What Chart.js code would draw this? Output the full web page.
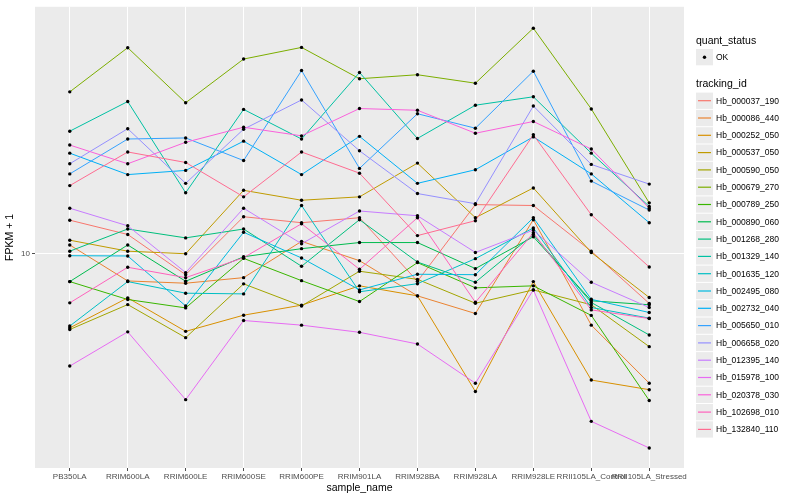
<!DOCTYPE html>
<html>
<head>
<meta charset="utf-8">
<script src="https://cdn.jsdelivr.net/npm/chart.js@4"></script>
<style>
  html, body { margin: 0; padding: 0; background: #fff; }
  #wrap { width: 800px; height: 500px; }
</style>
</head>
<body>
<div id="wrap"><canvas id="chart" width="800" height="500"></canvas></div>
<script>
// Expression plot (FPKM + 1, log scale) per sample

const samples = ['PB350LA', 'RRIM600LA', 'RRIM600LE', 'RRIM600SE', 'RRIM600PE', 'RRIM901LA',
    'RRIM928BA', 'RRIM928LA', 'RRIM928LE', 'RRII105LA_Control', 'RRII105LA_Stressed'];

const trackingIds = ['Hb_000037_190', 'Hb_000086_440', 'Hb_000252_050', 'Hb_000537_050', 'Hb_000590_050',
    'Hb_000679_270', 'Hb_000789_250', 'Hb_000890_060', 'Hb_001268_280', 'Hb_001329_140',
    'Hb_001635_120', 'Hb_002495_080', 'Hb_002732_040', 'Hb_005650_010', 'Hb_006658_020',
    'Hb_012395_140', 'Hb_015978_100', 'Hb_020378_030', 'Hb_102698_010', 'Hb_132840_110'];

const seriesColors = ['#F8766D', '#EA8331', '#D89000', '#C09B00', '#A3A500', '#7CAE00', '#39B600',
    '#00BB4E', '#00BF7D', '#00C1A3', '#00BFC4', '#00BAE0', '#00B0F6', '#35A2FF', '#9590FF',
    '#C77CFF', '#E76BF3', '#FA62DB', '#FF62BC', '#FF6C91'];

// FPKM + 1 values, one array per gene, in sample order
const hb000037 = [12.95, 11.6, 8.51, 13.3, 12.7, 13.2, 8.09, 14.6, 14.5, 10.2, 6.82];
const hb000086 = [10.7, 8.11, 7.97, 8.32, 11.0, 9.48, 7.23, 6.31, 13.0, 5.77, 3.69];
const hb000252 = [5.65, 7.12, 5.50, 6.23, 6.73, 7.81, 7.23, 3.46, 8.07, 3.78, 3.51];
const hb000537 = [11.1, 10.2, 10.0, 16.3, 15.1, 15.5, 20.1, 13.2, 16.6, 10.1, 7.14];
const hb000590 = [5.58, 6.76, 5.24, 7.93, 6.69, 8.74, 8.21, 6.83, 7.57, 6.75, 4.89];
const hb000679 = [34.8, 48.9, 32.0, 44.8, 49.0, 38.5, 39.7, 37.2, 56.8, 30.5, 14.8];
const hb000789 = [8.07, 7.03, 6.59, 9.65, 8.13, 6.92, 9.34, 7.69, 7.81, 6.22, 3.23];
const hb000890 = [8.07, 10.7, 8.09, 9.77, 10.4, 10.9, 10.9, 8.92, 11.4, 6.96, 6.75];
const hb001268 = [10.2, 12.1, 11.3, 12.1, 9.08, 13.0, 9.38, 8.03, 11.6, 6.87, 5.35];
const hb001329 = [25.7, 32.3, 16.0, 30.4, 24.2, 40.4, 24.3, 31.4, 33.5, 21.7, 14.4];
const hb001635 = [5.73, 8.07, 7.38, 7.34, 14.5, 7.46, 7.94, 9.63, 12.2, 6.61, 6.09];
const hb002495 = [9.85, 9.83, 6.69, 11.8, 9.68, 7.57, 8.54, 8.51, 13.2, 7.04, 6.36];
const hb002732 = [21.7, 18.4, 19.0, 23.8, 18.4, 24.7, 17.2, 19.1, 24.6, 18.5, 12.7];
const hb005650 = [18.5, 24.2, 24.4, 20.5, 41.0, 19.3, 29.4, 26.3, 40.8, 17.5, 14.0];
const hb006658 = [20.0, 26.2, 17.2, 26.1, 32.7, 22.1, 15.9, 14.7, 31.2, 19.9, 17.1];
const hb012395 = [14.2, 12.4, 8.65, 14.2, 10.8, 13.9, 13.4, 10.1, 12.0, 8.03, 6.61];
const hb015978 = [4.21, 5.48, 3.25, 5.98, 5.77, 5.46, 4.99, 3.69, 7.57, 2.75, 2.24];
const hb020378 = [23.1, 20.0, 23.6, 26.5, 24.8, 30.6, 30.2, 25.3, 27.7, 22.4, 14.2];
const hb102698 = [6.85, 9.01, 8.32, 9.70, 12.6, 8.87, 13.2, 6.88, 11.75, 6.49, 6.07];
const hb132840 = [16.9, 21.9, 20.2, 15.5, 21.9, 18.6, 11.5, 12.9, 25.0, 13.5, 9.03];

const seriesValues = [hb000037, hb000086, hb000252, hb000537, hb000590, hb000679, hb000789,
    hb000890, hb001268, hb001329, hb001635, hb002495, hb002732, hb005650, hb006658,
    hb012395, hb015978, hb020378, hb102698, hb132840];

const yTicks = [10];
const yMin = 1.92;
const yMax = 67;

const FONT = '"Liberation Sans", Arial, Helvetica, sans-serif';
const PANEL_BG = '#EBEBEB';

// grey panel behind the grid
const panelBackground = {
    id: 'panelBackground',
    beforeDraw(chart) {
        const { ctx, chartArea: a } = chart;
        ctx.save();
        ctx.fillStyle = PANEL_BG;
        ctx.fillRect(a.left, a.top, a.right - a.left, a.bottom - a.top);
        ctx.restore();
    }
};

// black points drawn over all lines, like geom_point after geom_line
const pointsOnTop = {
    id: 'pointsOnTop',
    afterDatasetsDraw(chart) {
        const ctx = chart.ctx;
        ctx.save();
        ctx.fillStyle = '#000';
        chart.data.datasets.forEach((ds, i) => {
            chart.getDatasetMeta(i).data.forEach(pt => {
                ctx.beginPath();
                ctx.arc(pt.x, pt.y, 1.7, 0, Math.PI * 2);
                ctx.fill();
            });
        });
        ctx.restore();
    }
};

// ggplot style legend on the right
const ggLegend = {
    id: 'ggLegend',
    afterDraw(chart) {
        const ctx = chart.ctx;
        const x0 = 696;
        ctx.save();
        ctx.textBaseline = 'middle';
        ctx.textAlign = 'left';

        ctx.fillStyle = '#000';
        ctx.font = '10.5px ' + FONT;
        ctx.fillText('quant_status', x0, 41);

        ctx.fillStyle = PANEL_BG;
        ctx.fillRect(x0, 49, 17, 16.3);
        ctx.fillStyle = '#000';
        ctx.beginPath();
        ctx.arc(x0 + 8.5, 57.2, 1.7, 0, Math.PI * 2);
        ctx.fill();
        ctx.font = '8.5px ' + FONT;
        ctx.fillText('OK', x0 + 20, 57.5);

        ctx.font = '10.5px ' + FONT;
        ctx.fillText('tracking_id', x0, 84);

        ctx.font = '8.5px ' + FONT;
        trackingIds.forEach((id, i) => {
            const cy = 100.7 + i * 17.3;
            ctx.fillStyle = PANEL_BG;
            ctx.fillRect(x0, cy - 8.1, 17, 16.3);
            ctx.strokeStyle = seriesColors[i];
            ctx.lineWidth = 1.2;
            ctx.beginPath();
            ctx.moveTo(x0 + 2, cy);
            ctx.lineTo(x0 + 15, cy);
            ctx.stroke();
            ctx.fillStyle = '#000';
            ctx.fillText(id, x0 + 20, cy + 0.5);
        });
        ctx.restore();
    }
};

function buildDatasets() {
    return trackingIds.map((id, i) => ({
        label: id,
        data: seriesValues[i].map((v, j) => ({ x: j, y: v })),
        borderColor: seriesColors[i],
        backgroundColor: seriesColors[i],
        borderWidth: 1,
        pointRadius: 0,
        tension: 0,
        fill: false,
        order: trackingIds.length - i
    }));
}

new Chart(document.getElementById('chart'), {
    type: 'line',
    data: { datasets: buildDatasets() },
    plugins: [panelBackground, pointsOnTop, ggLegend],
    options: {
        responsive: false,
        animation: false,
        layout: { padding: { left: 0, right: 116, top: 5, bottom: 0 } },
        plugins: {
            legend: { display: false },
            tooltip: { enabled: false }
        },
        scales: {
            x: {
                type: 'linear',
                min: -0.6,
                max: 10.6,
                afterBuildTicks: s => { s.ticks = samples.map((_, i) => ({ value: i })); },
                afterFit: s => { s.height = 32; },
                ticks: {
                    autoSkip: false,
                    maxRotation: 0,
                    minRotation: 0,
                    color: '#4D4D4D',
                    font: { size: 8, family: FONT },
                    padding: 1,
                    callback: v => samples[v]
                },
                grid: { color: '#FFFFFF', lineWidth: 1, tickColor: '#4D4D4D', tickLength: 3 },
                border: { display: false },
                title: {
                    display: true,
                    text: 'sample_name',
                    color: '#000',
                    font: { size: 10.5, family: FONT },
                    padding: { top: 0, bottom: 6 }
                }
            },
            y: {
                type: 'logarithmic',
                min: yMin,
                max: yMax,
                afterBuildTicks: s => { s.ticks = yTicks.map(v => ({ value: v })); },
                afterFit: s => { s.width = 35; },
                ticks: {
                    color: '#4D4D4D',
                    font: { size: 8, family: FONT },
                    padding: 2,
                    callback: v => String(v)
                },
                grid: { color: '#FFFFFF', lineWidth: 1, tickColor: '#4D4D4D', tickLength: 3 },
                border: { display: false },
                title: {
                    display: true,
                    text: 'FPKM + 1',
                    color: '#000',
                    font: { size: 10.5, family: FONT },
                    padding: { top: 4, bottom: 0 }
                }
            }
        }
    }
});
</script>
</body>
</html>
